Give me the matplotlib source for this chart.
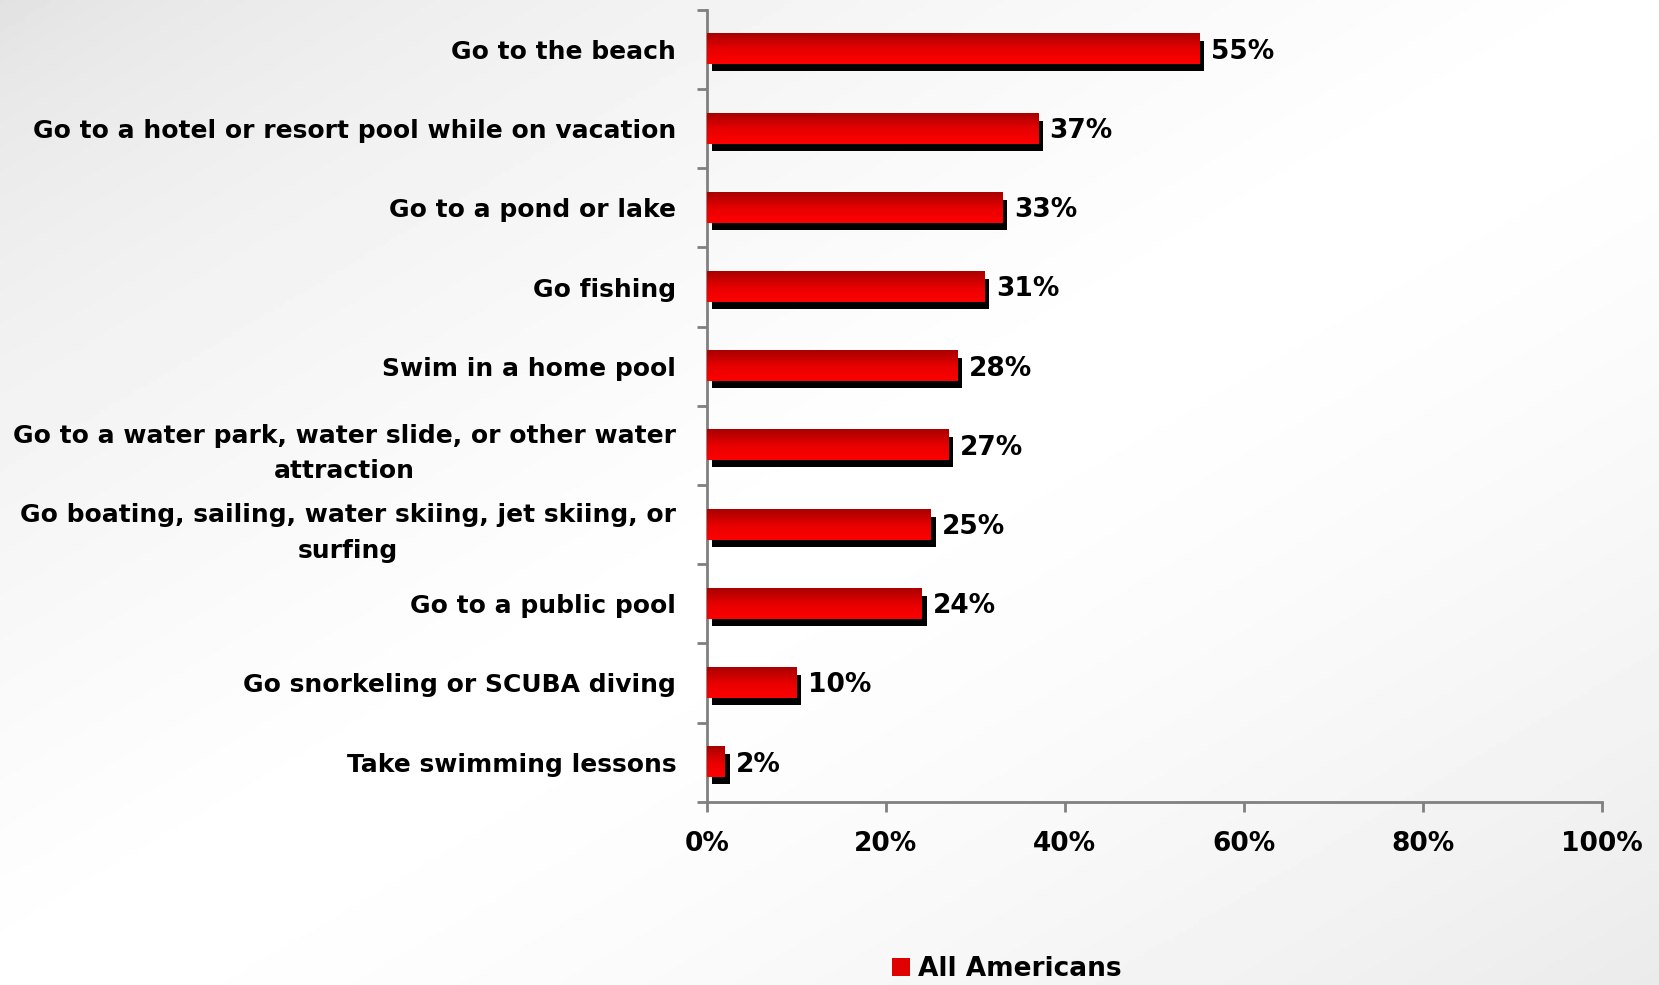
import numpy as np
import matplotlib.pyplot as plt
from matplotlib.colors import LinearSegmentedColormap
from matplotlib.patches import Patch
from matplotlib.transforms import offset_copy
from matplotlib.ticker import FixedLocator, PercentFormatter

activities = [
    "Go to the beach",
    "Go to a hotel or resort pool while on vacation",
    "Go to a pond or lake",
    "Go fishing",
    "Swim in a home pool",
    "Go to a water park, water slide, or other water\nattraction",
    "Go boating, sailing, water skiing, jet skiing, or\nsurfing",
    "Go to a public pool",
    "Go snorkeling or SCUBA diving",
    "Take swimming lessons",
]
all_americans = [55, 37, 33, 31, 28, 27, 25, 24, 10, 2]
series_name = "All Americans"

plt.rcParams['font.family'] = ['DejaVu Sans']
plt.rcParams['font.weight'] = 'bold'

fig = plt.figure(figsize=(16.59, 9.85), dpi=100)

# background: diagonal grey-white-grey wash
bg = fig.add_axes([0, 0, 1, 1], zorder=-10)
gx, gy = np.meshgrid(np.linspace(0, 1, 400), np.linspace(0, 1, 240))
u = (gx + gy) / 2
shade = np.where(u < 0.5, 0.88 + 0.12 * (u / 0.5) ** 0.6, 1.0 - 0.08 * ((u - 0.5) / 0.5) ** 1.5)
bg.imshow(shade, cmap='gray', vmin=0, vmax=1, aspect='auto', extent=(0, 1, 1, 0))
bg.axis('off')

ax = fig.add_axes([0.426, 0.186, 0.5397, 0.804])
ax.set_facecolor('none')

red_grad = LinearSegmentedColormap.from_list('redgrad', ['#a80000', '#e60000', '#ff0000'])
grad = np.linspace(0, 1, 64).reshape(-1, 1)

h = 0.38
ypos = np.arange(len(activities))
shadow_tr = offset_copy(ax.transData, fig, x=5, y=-7, units='dots')
ax.barh(ypos, all_americans, height=h, color='black', transform=shadow_tr, zorder=2)
for y, v in zip(ypos, all_americans):
    ax.imshow(grad, cmap=red_grad, aspect='auto', origin='upper',
              extent=(0, v, y + h / 2, y - h / 2), zorder=3, interpolation='bilinear')
    ax.text(v + 1.3, y + 0.03, f"{v}%", va='center', ha='left', fontsize=19,
            fontweight='bold', color='black')

ax.set_xlim(0, 100)
ax.set_ylim(len(activities) - 0.5, -0.5)

ax.set_yticks(ypos)
ax.set_yticklabels(activities, fontsize=18, fontweight='bold',
                   multialignment='center', linespacing=1.6)
ax.yaxis.set_minor_locator(FixedLocator(np.arange(-0.5, len(activities), 1)))
ax.tick_params(axis='y', which='major', length=0, pad=22)
ax.tick_params(axis='y', which='minor', length=7, width=2, color='#808080', direction='out')

ax.set_xticks([0, 20, 40, 60, 80, 100])
ax.xaxis.set_major_formatter(PercentFormatter(decimals=0))
ax.tick_params(axis='x', length=7, width=2, color='#808080', labelsize=19, pad=14)
for lbl in ax.get_xticklabels():
    lbl.set_fontweight('bold')

for side in ['top', 'right']:
    ax.spines[side].set_visible(False)
for side in ['left', 'bottom']:
    ax.spines[side].set_color('#808080')
    ax.spines[side].set_linewidth(2)

fig.legend(handles=[Patch(facecolor='#e00000', edgecolor='none', label=series_name)],
           loc='center', bbox_to_anchor=(0.607, 0.016), frameon=False,
           prop={'size': 19, 'weight': 'bold'}, handlelength=0.7, handleheight=0.7,
           handletextpad=0.3)

fig.savefig('out.png', dpi=100)
